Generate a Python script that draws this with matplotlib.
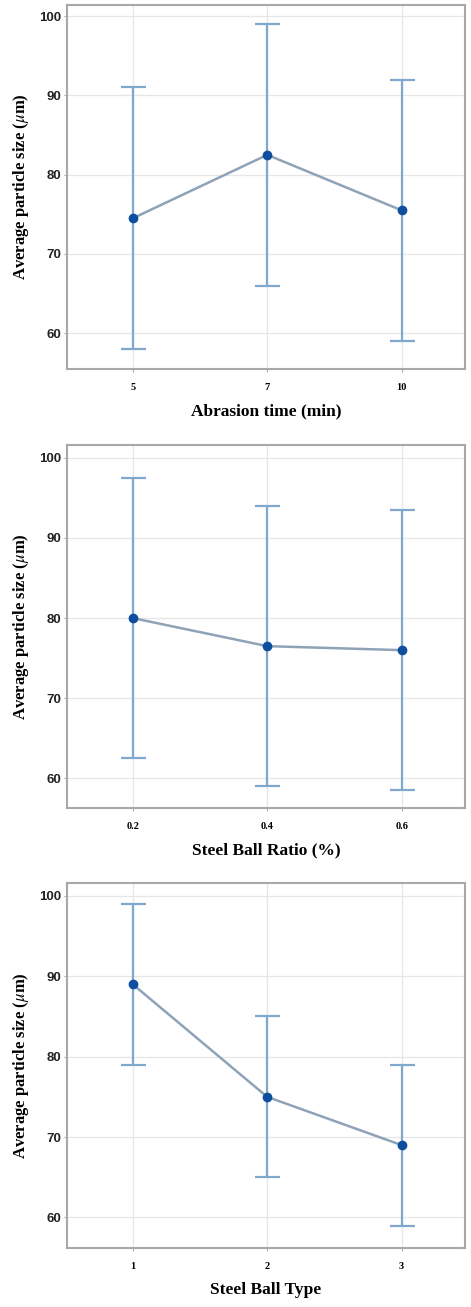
import matplotlib
matplotlib.use("Agg")
import matplotlib.pyplot as plt

plt.rcParams["mathtext.fontset"] = "stix"

# Factor levels and mean particle sizes with their error half-widths
time_levels = ["5", "7", "10"]
time_means = [74.5, 82.5, 75.5]
time_err = [16.5, 16.5, 16.5]

ratio_levels = ["0.2", "0.4", "0.6"]
ratio_means = [80.0, 76.5, 76.0]
ratio_err = [17.5, 17.5, 17.5]

type_levels = ["1", "2", "3"]
type_means = [89.0, 75.0, 69.0]
type_err = [10.0, 10.0, 10.0]

y_ticks = [60, 70, 80, 90, 100]

fig = plt.figure(figsize=(4.71, 13.07), dpi=100)

panels = [
    (time_levels, time_means, time_err, "Abrasion time (min)", (0.7177, 0.9962), (55.5, 101.4)),
    (ratio_levels, ratio_means, ratio_err, "Steel Ball Ratio (%)", (0.3818, 0.6595), (56.3, 101.6)),
    (type_levels, type_means, type_err, "Steel Ball Type", (0.0451, 0.3244), (56.2, 101.6)),
]

err_color = "#80a8cc"
line_color = "#8ea3b8"
mark_color = "#0d4f9e"
frame_color = "#a8a8a8"

for levels, means, errs, xlabel, (b, t), ylim in panels:
    ax = fig.add_axes([0.142, b, 0.987 - 0.142, t - b])
    x = list(range(len(levels)))
    ax.plot(x, means, color=line_color, lw=1.8, zorder=3)
    ax.errorbar(x, means, yerr=errs, fmt="none", ecolor=err_color,
                elinewidth=1.6, capsize=9, capthick=1.6, zorder=2)
    ax.plot(x, means, "o", color=mark_color, ms=6, zorder=4)
    ax.set_xlim(-0.49, 2.47)
    ax.set_ylim(*ylim)
    ax.set_xticks(x)
    ax.set_xticklabels(levels, family="Liberation Serif", fontweight="bold", fontsize=7.5)
    ax.set_yticks(y_ticks)
    ax.set_yticklabels([str(v) for v in y_ticks], family="Liberation Sans",
                       fontweight="bold", fontsize=9.5, color="#222222")
    ax.tick_params(axis="both", length=2, color=frame_color, pad=8)
    ax.tick_params(axis="y", pad=2)
    ax.grid(True, color="#e6e6e6", lw=0.9, zorder=0)
    ax.set_axisbelow(True)
    for s in ax.spines.values():
        s.set_color(frame_color)
        s.set_linewidth(1.5)
    ax.set_xlabel(xlabel, family="Liberation Serif", fontweight="bold",
                  fontsize=12.5, labelpad=8)
    ax.set_ylabel(r"Average particle size ($\mu$m)", family="Liberation Serif",
                  fontweight="bold", fontsize=12, labelpad=6)

fig.savefig("out.png", dpi=100, facecolor="white")
